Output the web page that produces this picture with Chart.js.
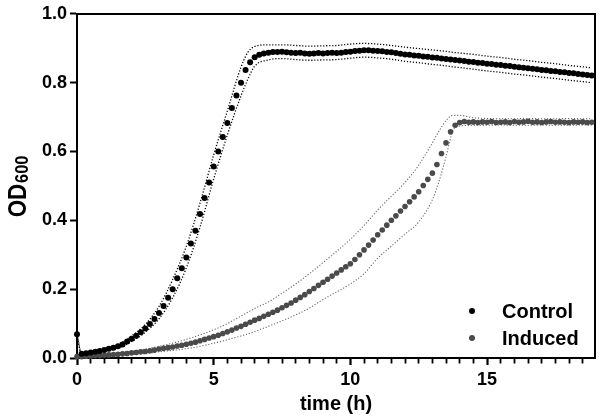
<!DOCTYPE html>
<html><head><meta charset="utf-8">
<script src="https://cdn.jsdelivr.net/npm/chart.js@4.4.1/dist/chart.umd.min.js"></script>
<style>html,body{margin:0;padding:0;background:#fff}#wrap{width:600px;height:419px}</style>
</head><body><div id="wrap"><canvas id="c" width="600" height="419"></canvas></div>
<script>
// ---- data ----
const sampleMinutes = [0,10,20,30,40,50,60,70,80,90,100,110,120,130,140,150,160,170,180,190,200,210,220,230,240,250,260,270,280,290,300,310,320,330,340,350,360,370,380,390,400,410,420,430,440,450,460,470,480,490,500,510,520,530,540,550,560,570,580,590,600,610,620,630,640,650,660,670,680,690,700,710,720,730,740,750,760,770,780,790,800,810,820,830,840,850,860,870,880,890,900,910,920,930,940,950,960,970,980,990,1000,1010,1020,1030,1040,1050,1060,1070,1080,1090,1100,1110,1120,1130];
const controlOD = [0.069,0.012,0.014,0.016,0.018,0.020,0.023,0.027,0.030,0.034,
0.039,0.048,0.056,0.065,0.075,0.086,0.099,0.113,0.131,0.151,
0.175,0.200,0.232,0.261,0.292,0.333,0.370,0.418,0.465,0.510,
0.556,0.600,0.642,0.683,0.726,0.763,0.800,0.837,0.859,0.874,
0.881,0.885,0.887,0.889,0.889,0.890,0.888,0.887,0.886,0.887,
0.885,0.884,0.885,0.886,0.885,0.886,0.887,0.886,0.887,0.889,
0.890,0.892,0.893,0.894,0.894,0.893,0.892,0.891,0.889,0.888,
0.886,0.884,0.882,0.881,0.879,0.878,0.876,0.875,0.873,0.872,
0.870,0.869,0.867,0.866,0.864,0.863,0.861,0.860,0.858,0.857,
0.855,0.854,0.852,0.851,0.849,0.848,0.846,0.845,0.843,0.842,
0.840,0.839,0.837,0.836,0.834,0.833,0.831,0.830,0.828,0.827,
0.825,0.824,0.822,0.821];
const inducedOD = [0.004,0.004,0.005,0.006,0.007,0.007,0.008,0.009,0.010,0.011,
0.012,0.013,0.015,0.016,0.018,0.019,0.021,0.023,0.026,0.028,
0.030,0.032,0.035,0.037,0.040,0.043,0.046,0.050,0.054,0.058,
0.062,0.066,0.071,0.076,0.081,0.087,0.092,0.098,0.104,0.110,
0.115,0.121,0.127,0.133,0.139,0.146,0.153,0.160,0.168,0.176,
0.184,0.193,0.202,0.211,0.220,0.229,0.238,0.247,0.256,0.265,
0.274,0.286,0.300,0.314,0.328,0.343,0.358,0.372,0.386,0.400,
0.413,0.427,0.440,0.454,0.468,0.483,0.501,0.519,0.537,0.562,
0.594,0.625,0.657,0.676,0.684,
0.687,0.685,0.686,0.684,0.686,0.685,0.687,0.684,0.685,0.686,
0.684,0.687,0.685,0.686,0.688,0.685,0.686,0.684,0.686,0.687,
0.685,0.686,0.685,0.684,0.686,0.685,0.686,0.684,0.685];
const bandHours = [0,0.167,0.5,1,1.5,2,2.5,3,3.5,4,4.5,5,5.5,6,6.25,6.5,7,7.5,8,8.5,9,9.5,10,10.5,11,11.5,12,12.5,13,13.25,13.5,13.75,14,14.5,15,15.5,16,16.5,17,17.5,18,18.5,18.83];
const controlUpper = [0.071,0.014,0.019,0.027,0.040,0.064,0.098,0.150,0.228,0.325,0.450,0.590,0.718,0.845,0.888,0.905,0.910,0.910,0.908,0.906,0.907,0.908,0.912,0.914,0.912,0.908,0.903,0.899,0.895,0.893,0.891,0.888,0.886,0.882,0.877,0.873,0.868,0.864,0.859,0.855,0.850,0.846,0.843];
const controlLower = [0.067,0.010,0.013,0.019,0.029,0.048,0.075,0.114,0.175,0.262,0.380,0.520,0.648,0.762,0.810,0.848,0.866,0.870,0.867,0.865,0.866,0.867,0.871,0.874,0.872,0.868,0.862,0.858,0.853,0.851,0.849,0.846,0.844,0.839,0.834,0.830,0.825,0.821,0.816,0.812,0.807,0.803,0.800];
const inducedUpper = [0.006,0.006,0.008,0.011,0.015,0.020,0.026,0.034,0.043,0.054,0.067,0.082,0.100,0.122,0.133,0.144,0.163,0.188,0.215,0.245,0.277,0.310,0.345,0.385,0.430,0.470,0.510,0.560,0.625,0.660,0.690,0.705,0.705,0.698,0.696,0.695,0.695,0.696,0.695,0.695,0.696,0.695,0.695];
const inducedLower = [0.002,0.002,0.004,0.005,0.007,0.010,0.013,0.018,0.022,0.027,0.034,0.043,0.053,0.064,0.070,0.077,0.092,0.108,0.125,0.145,0.170,0.192,0.215,0.245,0.290,0.325,0.360,0.395,0.460,0.515,0.585,0.660,0.674,0.676,0.676,0.677,0.676,0.676,0.677,0.676,0.676,0.677,0.676];
const seriesNames = ['Control','Induced'];
const xMajorTicks = [0,5,10,15];
const yTickValues = [0,0.2,0.4,0.6,0.8,1.0];
const xMax = 18.95;

// ---- build ----
const FONT = "'Liberation Sans', Arial, Helvetica, sans-serif";
const toPts = (xs, ys, conv) => xs.map((x, i) => ({x: conv ? x / 60 : x, y: ys[i]}));
const bandStyle = (col, w) => ({pointRadius: 0, borderColor: col, borderWidth: w, borderDash: [1.2, 1.8],
  cubicInterpolationMode: 'monotone', showLine: true, fill: false, order: 3, clip: false});
const isMajor = v => xMajorTicks.some(m => Math.abs(m - v) < 1e-6);

const legendPlugin = {
  id: 'insideLegend',
  afterDraw(chart) {
    const {ctx, chartArea} = chart;
    const items = [
      {label: chart.data.datasets[0].label, color: chart.data.datasets[0].backgroundColor, dy: 47},
      {label: chart.data.datasets[1].label, color: chart.data.datasets[1].backgroundColor, dy: 20}
    ];
    ctx.save();
    ctx.font = "bold 20px " + FONT;
    ctx.textBaseline = 'middle';
    ctx.textAlign = 'left';
    items.forEach(it => {
      const y = chartArea.bottom - it.dy;
      ctx.fillStyle = it.color;
      ctx.beginPath();
      ctx.arc(chartArea.right - 123, y, 3, 0, Math.PI * 2);
      ctx.fill();
      ctx.fillStyle = '#000';
      ctx.fillText(it.label, chartArea.right - 93, y + 1);
    });
    ctx.restore();
  }
};
const yTitlePlugin = {
  id: 'yTitle',
  afterDraw(chart) {
    const {ctx, chartArea} = chart;
    const cy = (chartArea.top + chartArea.bottom) / 2 + 1;
    ctx.save();
    ctx.translate(26, cy);
    ctx.rotate(-Math.PI / 2);
    ctx.scale(0.86, 1);
    ctx.fillStyle = '#000';
    ctx.textBaseline = 'alphabetic';
    ctx.font = "bold 26px " + FONT;
    const w1 = ctx.measureText('OD').width;
    ctx.font = "bold 19px " + FONT;
    const w2 = ctx.measureText('600').width;
    const x0 = -(w1 + w2) / 2;
    ctx.font = "bold 26px " + FONT;
    ctx.fillText('OD', x0, 0);
    ctx.font = "bold 19px " + FONT;
    ctx.fillText('600', x0 + w1 + 1, 2);
    ctx.restore();
  }
};

new Chart(document.getElementById('c'), {
  type: 'scatter',
  data: {
    datasets: [
      {label: seriesNames[0], data: toPts(sampleMinutes, controlOD, true), backgroundColor: '#000', borderWidth: 0,
       pointRadius: 3, showLine: false, order: 1, clip: false},
      {label: seriesNames[1], data: toPts(sampleMinutes, inducedOD, true), backgroundColor: '#4a4a4a', borderWidth: 0,
       pointRadius: 2.8, showLine: false, order: 2, clip: false},
      Object.assign({label: 'Control upper', data: toPts(bandHours, controlUpper)}, bandStyle('#000', 1.3)),
      Object.assign({label: 'Control lower', data: toPts(bandHours, controlLower)}, bandStyle('#000', 1.3)),
      Object.assign({label: 'Induced upper', data: toPts(bandHours, inducedUpper)}, bandStyle('#6a6a6a', 1.1)),
      Object.assign({label: 'Induced lower', data: toPts(bandHours, inducedLower)}, bandStyle('#6a6a6a', 1.1))
    ]
  },
  options: {
    responsive: false,
    animation: false,
    events: [],
    layout: {padding: {top: 8, right: 5, left: 0, bottom: 0}},
    plugins: {legend: {display: false}, tooltip: {enabled: false}},
    scales: {
      x: {
        type: 'linear', position: 'bottom', min: 0, max: xMax,
        afterFit: s => { s.height = 61; },
        ticks: {color: '#000', font: {family: FONT, size: 18, weight: 'bold'}, padding: 4, maxRotation: 0, minRotation: 0,
          stepSize: 0.5, autoSkip: false, includeBounds: false,
          callback: v => isMajor(v) ? String(Math.round(v)) : ''},
        grid: {drawOnChartArea: false, drawTicks: true, tickLength: 7, tickColor: '#000',
          tickWidth: c => isMajor(c.tick.value) ? 2.2 : 1.8,
          tickBorderDash: c => isMajor(c.tick.value) ? [] : [4.5, 30]},
        border: {display: true, color: '#000', width: 2},
        title: {display: true, text: 'time (h)', color: '#000', font: {family: FONT, size: 20, weight: 'bold'}, padding: {top: 0, bottom: 3}}
      },
      xTop: {
        type: 'linear', position: 'top', min: 0, max: xMax,
        afterFit: s => { s.height = 0; },
        ticks: {display: false},
        grid: {drawOnChartArea: false, drawTicks: false},
        border: {display: true, color: '#000', width: 2}
      },
      y: {
        type: 'linear', position: 'left', min: 0, max: 1,
        afterBuildTicks: s => { s.ticks = yTickValues.map(v => ({value: v})); },
        afterFit: s => { s.width = 77; },
        ticks: {color: '#000', font: {family: FONT, size: 18, weight: 'bold'}, padding: 3, callback: v => v.toFixed(1)},
        grid: {drawOnChartArea: false, drawTicks: true, tickLength: 7, tickWidth: 2, tickColor: '#000'},
        border: {display: true, color: '#000', width: 2}
      },
      yRight: {
        type: 'linear', position: 'right', min: 0, max: 1,
        afterFit: s => { s.width = 0; },
        ticks: {display: false},
        grid: {drawOnChartArea: false, drawTicks: false},
        border: {display: true, color: '#000', width: 2}
      }
    }
  },
  plugins: [legendPlugin, yTitlePlugin]
});
</script>
</body></html>
